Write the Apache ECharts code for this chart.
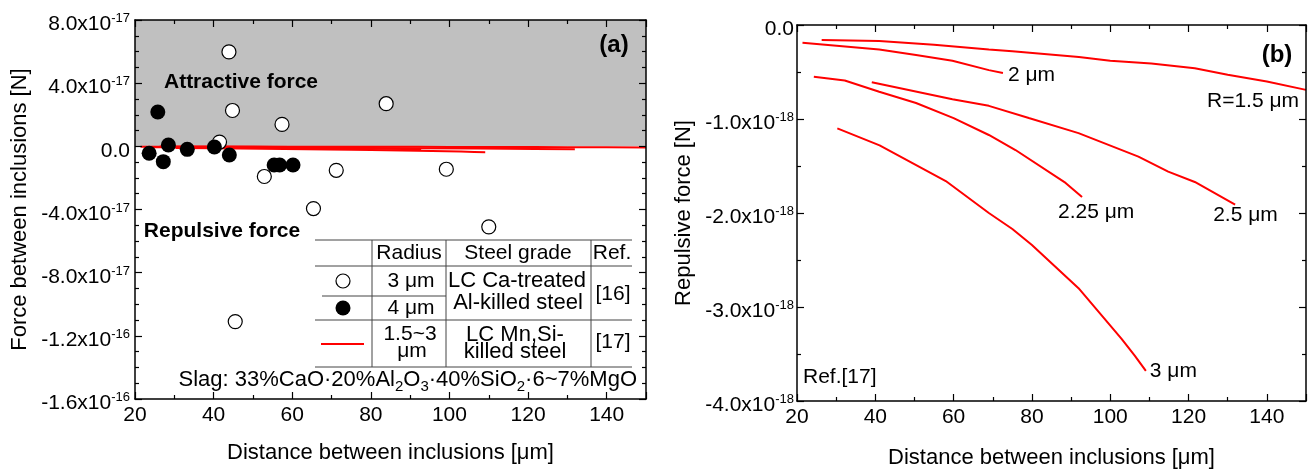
<!DOCTYPE html>
<html>
<head>
<meta charset="utf-8">
<title>Force between inclusions</title>
<script src="https://cdn.jsdelivr.net/npm/echarts@6.0.0/dist/echarts.min.js"></script>
<style>
  html, body { margin: 0; padding: 0; background: #fff; }
  #chart { width: 1309px; height: 469px; }
</style>
</head>
<body>
<div id="chart"></div>
<script>
// ---- data ----
// (a) measured force between inclusions, Ref.[16], force in 1e-17 N
const open3umX = [43.9, 44.8, 41.5, 57.4, 83.9, 52.9, 71.2, 99.2, 65.4, 110.0, 45.5]
const open3umY = [5.98, 2.27, 0.27, 1.39, 2.70, -1.91, -1.52, -1.45, -3.94, -5.10, -11.1]
const filled4umX = [25.8, 23.6, 27.2, 28.5, 33.3, 40.2, 44.0, 55.4, 56.8, 60.2]
const filled4umY = [2.17, -0.44, -0.97, 0.08, -0.19, -0.04, -0.55, -1.18, -1.18, -1.18]

// (b) calculated repulsive force, Ref.[17], [distance um, force 1e-18 N]
const curveR15 = [[26.3, -0.16], [41, -0.17], [55, -0.21], [69, -0.26], [75, -0.28], [92, -0.34],
  [100, -0.38], [110.5, -0.41], [121.6, -0.46], [130, -0.53], [140, -0.60], [150, -0.69]]
const curveR20 = [[21.4, -0.19], [41, -0.26], [50.4, -0.32], [59.7, -0.38], [69, -0.48], [72.6, -0.51]]
const curveR225 = [[24.3, -0.55], [32.2, -0.59], [41, -0.71], [50.4, -0.83], [60, -0.99], [69, -1.17],
  [75.8, -1.33], [88.6, -1.68], [92.8, -1.83]]
const curveR25 = [[39.1, -0.61], [59.7, -0.79], [69, -0.86], [79.2, -0.99], [91.9, -1.15], [107.2, -1.40],
  [114.8, -1.56], [121.6, -1.67], [131.9, -1.91]]
const curveR30 = [[30.3, -1.10], [41.1, -1.28], [58, -1.66], [69, -2.0], [75, -2.17], [80, -2.34],
  [91.9, -2.80], [102.9, -3.34], [106.3, -3.52], [109.1, -3.68]]
const curveNames = ['R=1.5 \u03bcm', '2 \u03bcm', '2.25 \u03bcm', '2.5 \u03bcm', '3 \u03bcm']

// tick labels
const xTicks = [20, 40, 60, 80, 100, 120, 140]
const leftYTicks = [8, 4, 0, -4, -8, -12, -16]
const leftYMant = ['8.0x10', '4.0x10', '0.0', '-4.0x10', '-8.0x10', '-1.2x10', '-1.6x10']
const leftYExp = ['-17', '-17', '', '-17', '-17', '-16', '-16']
const rightYTicks = [0, -1, -2, -3, -4]
const rightYMant = ['0.0', '-1.0x10', '-2.0x10', '-3.0x10', '-4.0x10']
const rightYExp = ['', '-18', '-18', '-18', '-18']

const FONT = "'Liberation Sans', Arial, Helvetica, sans-serif"
const RED = '#ff0000'

const tickRich = {
  m: { fontSize: 21, lineHeight: 22, padding: [2, 0, 0, 0], verticalAlign: 'top', fontFamily: FONT, color: '#000' },
  s: { fontSize: 13, lineHeight: 13, verticalAlign: 'top', fontFamily: FONT, color: '#000' }
}

function expLabel(ticks, mant, exp) {
  return function (v) {
    const i = ticks.indexOf(Math.round(v * 1000) / 1000)
    if (i < 0) return ''
    return '{m|' + mant[i] + '}' + (exp[i] ? '{s|' + exp[i] + '}' : '')
  }
}

function frameAxis(extra) {
  return Object.assign({
    type: 'value',
    z: 10,
    axisLine: { show: true, onZero: false, lineStyle: { color: '#000', width: 1.5 } },
    axisTick: { show: true, inside: true, length: 7, lineStyle: { color: '#000', width: 1.2 } },
    minorTick: { show: true, splitNumber: 2, length: 4, lineStyle: { color: '#000', width: 1.2 } },
    splitLine: { show: false },
    minorSplitLine: { show: false },
    axisLabel: { show: false }
  }, extra)
}

const nameStyle = { fontSize: 22, fontFamily: FONT, color: '#000' }
const xLabel = {
  show: true, margin: 6, fontSize: 21, fontFamily: FONT, color: '#000',
  formatter: v => xTicks.indexOf(v) >= 0 ? String(v) : ''
}

function redLine(data, xi, yi, extra) {
  return Object.assign({
    type: 'line',
    xAxisIndex: xi,
    yAxisIndex: yi,
    data: data,
    showSymbol: false,
    symbol: 'none',
    silent: true,
    z: 3,
    lineStyle: { color: RED, width: 2 }
  }, extra)
}

// the left panel repeats the curves of Ref.[17] on its 1e-17 N scale
const toLeft = c => c.map(p => [p[0], p[1] / 10])

function endLabel(text, dx, dy) {
  return {
    show: true,
    formatter: text,
    distance: 5,
    offset: [dx, dy],
    fontSize: 21,
    fontFamily: FONT,
    color: '#000'
  }
}

function txt(x, y, text, opts) {
  return {
    type: 'text',
    x: x,
    y: y,
    z: 20,
    silent: true,
    style: Object.assign({
      text: text,
      fontSize: 21,
      fontFamily: FONT,
      fill: '#000',
      align: 'center',
      verticalAlign: 'middle'
    }, opts)
  }
}

function hline(x1, x2, y) {
  return { type: 'line', z: 20, silent: true, shape: { x1: x1, y1: y, x2: x2, y2: y }, style: { stroke: '#444', lineWidth: 1 } }
}
function vline(x, y1, y2) {
  return { type: 'line', z: 20, silent: true, shape: { x1: x, y1: y1, x2: x, y2: y2 }, style: { stroke: '#444', lineWidth: 1 } }
}

const chart = echarts.init(document.getElementById('chart'), null, { renderer: 'canvas' })

const option = {
  animation: false,
  backgroundColor: '#fff',
  textStyle: { fontFamily: FONT },
  grid: [
    { left: 135, top: 20, width: 511, height: 379, outerBoundsMode: 'none' },
    { left: 797, top: 25, width: 509, height: 376, outerBoundsMode: 'none' }
  ],
  xAxis: [
    frameAxis({
      gridIndex: 0, position: 'bottom', min: 20, max: 150, interval: 20, axisLabel: xLabel,
      name: 'Distance between inclusions [\u03bcm]', nameLocation: 'middle', nameGap: 43, nameTextStyle: nameStyle
    }),
    frameAxis({ gridIndex: 0, position: 'top', min: 20, max: 150, interval: 20 }),
    frameAxis({
      gridIndex: 1, position: 'bottom', min: 20, max: 150, interval: 20, axisLabel: xLabel,
      name: 'Distance between inclusions [\u03bcm]', nameLocation: 'middle', nameGap: 46, nameTextStyle: nameStyle
    }),
    frameAxis({ gridIndex: 1, position: 'top', min: 20, max: 150, interval: 20 })
  ],
  yAxis: [
    frameAxis({
      gridIndex: 0, position: 'left', min: -16, max: 8, interval: 4,
      minorTick: { show: true, splitNumber: 4, length: 4, lineStyle: { color: '#000', width: 1.2 } },
      axisLabel: { show: true, margin: 5, padding: [6, 0, 0, 0], rich: tickRich, formatter: expLabel(leftYTicks, leftYMant, leftYExp) },
      name: 'Force between inclusions [N]', nameLocation: 'middle', nameGap: 104, nameTextStyle: nameStyle
    }),
    frameAxis({
      gridIndex: 0, position: 'right', min: -16, max: 8, interval: 4,
      minorTick: { show: true, splitNumber: 4, length: 4, lineStyle: { color: '#000', width: 1.2 } }
    }),
    frameAxis({
      gridIndex: 1, position: 'left', min: -4, max: 0, interval: 1,
      axisLabel: { show: true, margin: 3, padding: [6, 0, 0, 0], rich: tickRich, formatter: expLabel(rightYTicks, rightYMant, rightYExp) },
      name: 'Repulsive force [N]', nameLocation: 'middle', nameGap: 102, nameTextStyle: nameStyle
    }),
    frameAxis({ gridIndex: 1, position: 'right', min: -4, max: 0, interval: 1 })
  ],
  series: [
    {
      // grey band: attractive side
      type: 'line',
      xAxisIndex: 0,
      yAxisIndex: 0,
      data: [],
      z: 1,
      silent: true,
      markArea: {
        silent: true,
        itemStyle: { color: '#c0c0c0' },
        data: [[{ yAxis: 0 }, { yAxis: 8 }]]
      }
    },
    redLine(toLeft(curveR15), 0, 0),
    redLine(toLeft(curveR20), 0, 0),
    redLine(toLeft(curveR225), 0, 0),
    redLine(toLeft(curveR25), 0, 0),
    redLine(toLeft(curveR30), 0, 0),
    {
      name: '3 \u03bcm',
      type: 'scatter',
      xAxisIndex: 0,
      yAxisIndex: 0,
      z: 4,
      symbolSize: 14,
      itemStyle: { color: '#fff', borderColor: '#000', borderWidth: 1.2, opacity: 1 },
      data: open3umX.map((x, i) => [x, open3umY[i]])
    },
    {
      name: '4 \u03bcm',
      type: 'scatter',
      xAxisIndex: 0,
      yAxisIndex: 0,
      z: 5,
      symbolSize: 15,
      itemStyle: { color: '#000', opacity: 1 },
      data: filled4umX.map((x, i) => [x, filled4umY[i]])
    },
    redLine(curveR15, 2, 2, { endLabel: endLabel(curveNames[0], -104, 11) }),
    redLine(curveR20, 2, 2, { endLabel: endLabel(curveNames[1], 0, 2) }),
    redLine(curveR225, 2, 2, { endLabel: endLabel(curveNames[2], -29, 15) }),
    redLine(curveR25, 2, 2, { endLabel: endLabel(curveNames[3], -27, 11) }),
    redLine(curveR30, 2, 2, { endLabel: endLabel(curveNames[4], -1, 0) })
  ],
  graphic: [
    // panel (a) annotations
    txt(614, 45, '(a)', { fontSize: 24, fontWeight: 'bold' }),
    txt(241, 82, 'Attractive force', { fontWeight: 'bold' }),
    txt(222, 231, 'Repulsive force', { fontWeight: 'bold' }),
    txt(637, 380, '{m|Slag: 33%CaO\u00b720%Al}{b|2}{m|O}{b|3}{m|\u00b740%SiO}{b|2}{m|\u00b76~7%MgO}', {
      align: 'right',
      rich: {
        m: { fontSize: 22, lineHeight: 22, verticalAlign: 'top', fontFamily: FONT, fill: '#000' },
        b: { fontSize: 15, lineHeight: 15, padding: [10, 0, 0, 0], verticalAlign: 'top', fontFamily: FONT, fill: '#000' }
      }
    }),
    // legend table
    hline(315, 632, 240),
    hline(315, 632, 266),
    hline(322, 446, 296),
    hline(315, 632, 320),
    hline(315, 632, 367),
    vline(372, 240, 367),
    vline(446, 240, 367),
    vline(591, 240, 367),
    txt(409, 253, 'Radius'),
    txt(518, 253, 'Steel grade'),
    txt(612, 253, 'Ref.'),
    txt(411, 281, '3 \u03bcm'),
    txt(411, 308, '4 \u03bcm'),
    txt(517, 281, 'LC Ca-treated', { fontSize: 22 }),
    txt(518, 303, 'Al-killed steel', { fontSize: 22 }),
    txt(613, 294, '[16]'),
    txt(410, 334, '1.5~3'),
    txt(412, 351, '\u03bcm'),
    txt(515, 335, 'LC Mn,Si-', { fontSize: 22 }),
    txt(515, 352, 'killed steel', { fontSize: 22 }),
    txt(613, 342, '[17]'),
    { type: 'circle', z: 20, silent: true, shape: { cx: 343, cy: 281, r: 7 }, style: { fill: '#fff', stroke: '#000', lineWidth: 1.2 } },
    { type: 'circle', z: 20, silent: true, shape: { cx: 343, cy: 308, r: 7.5 }, style: { fill: '#000' } },
    { type: 'line', z: 20, silent: true, shape: { x1: 321, y1: 344, x2: 364, y2: 344 }, style: { stroke: RED, lineWidth: 2 } },
    // panel (b) annotations
    txt(1277, 55, '(b)', { fontSize: 24, fontWeight: 'bold' }),
    txt(803, 377, 'Ref.[17]', { align: 'left' })
  ]
}

chart.setOption(option)
</script>
</body>
</html>
